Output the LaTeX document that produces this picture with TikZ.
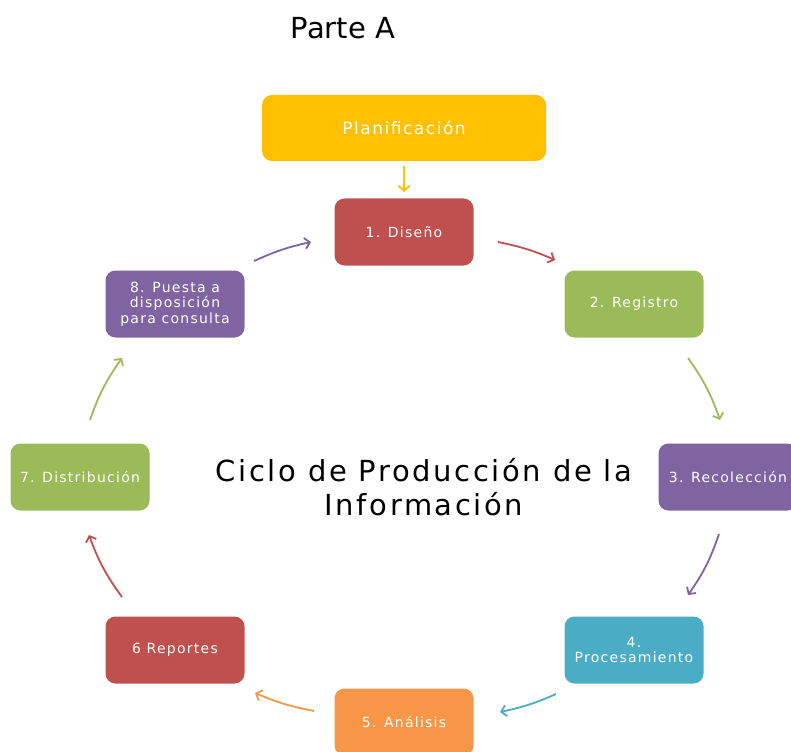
\documentclass[tikz,border=0pt]{standalone}
\usepackage{fontspec}
\setmainfont{DejaVu Sans}
\newfontfamily\spacedfont[LetterSpace=9]{DejaVu Sans}
\usetikzlibrary{shapes,arrows,arrows.meta,positioning,calc}
\usepackage{xcolor}
\definecolor{plangold}{RGB}{255,192,0}
\definecolor{stagered}{RGB}{192,80,77}
\definecolor{stagegreen}{RGB}{155,187,89}
\definecolor{stagepurple}{RGB}{128,100,162}
\definecolor{stageteal}{RGB}{75,172,198}
\definecolor{stageorange}{RGB}{247,150,70}

\begin{document}
\begin{tikzpicture}[x=1pt,y=-1pt,
        stage/.style={rectangle,rounded corners=10pt,minimum width=139pt,minimum height=67pt,
            inner sep=2pt,text=white,align=center,font=\spacedfont\fontsize{14}{15.5}\selectfont},
        cyc/.style={-{Straight Barb[length=5pt,width=11pt]},line width=1.8pt}]
        \useasboundingbox (0,0) rectangle (791,751);

        \node (parte) at (343,28) {\fontsize{29}{34}\selectfont Parte A};
        \node[align=center,font=\spacedfont\fontsize{29}{34}\selectfont] (ciclo) at (424,487) {Ciclo de Producción de la\\Información};

        \node[stage,fill=plangold,minimum width=284pt,minimum height=66pt,font=\spacedfont\fontsize{17}{19}\selectfont] (plan) at (404,128) {Planificación};
        \node[stage,fill=stagered] (s1) at (404,232) {1. Diseño};
        \node[stage,fill=stagegreen] (s2) at (634,304) {2. Registro};
        \node[stage,fill=stagepurple] (s3) at (728,477) {3. Recolección};
        \node[stage,fill=stageteal] (s4) at (634,650) {4.\\Procesamiento};
        \node[stage,fill=stageorange] (s5) at (404,722) {5. Análisis};
        \node[stage,fill=stagered] (s6) at (175,650) {6 Reportes};
        \node[stage,fill=stagegreen] (s7) at (80,477) {7. Distribución};
        \node[stage,fill=stagepurple] (s8) at (175,304) {8. Puesta a\\disposición\\para consulta};

        % arrow ends round the cycle
        \coordinate (p0) at (404,166); \coordinate (q0) at (404,192);
        \coordinate (p1) at (498,242); \coordinate (q1) at (555,260);
        \coordinate (p2) at (688,358); \coordinate (q2) at (720,420);
        \coordinate (p3) at (719,534); \coordinate (q3) at (688,595);
        \coordinate (p4) at (556,694); \coordinate (q4) at (500,712);
        \coordinate (p5) at (314,711); \coordinate (q5) at (255,693);
        \coordinate (p6) at (122,597); \coordinate (q6) at (89,535);
        \coordinate (p7) at (90,420);  \coordinate (q7) at (122,358);
        \coordinate (p8) at (254,261); \coordinate (q8) at (311,242);

        \draw[cyc,plangold] (p0) -- (q0);
        \draw[cyc,stagered] (p1) to[bend left=6] (q1);
        \draw[cyc,stagegreen] (p2) to[bend left=8] (q2);
        \draw[cyc,stagepurple] (p3) to[bend left=8] (q3);
        \draw[cyc,stageteal] (p4) to[bend left=6] (q4);
        \draw[cyc,stageorange] (p5) to[bend left=6] (q5);
        \draw[cyc,stagered] (p6) to[bend left=8] (q6);
        \draw[cyc,stagegreen] (p7) to[bend left=8] (q7);
        \draw[cyc,stagepurple] (p8) to[bend left=6] (q8);
    \end{tikzpicture}
\end{document}
